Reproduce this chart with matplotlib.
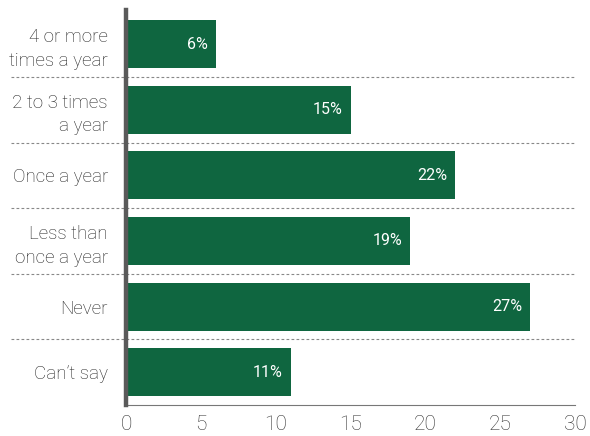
import matplotlib.pyplot as plt

categorias = ['4 or more\ntimes a year', '2 to 3 times\na year', 'Once a year',
              'Less than\nonce a year', 'Never', 'Can\u2019t say']
valores = [6, 15, 22, 19, 27, 11]

plt.rcParams['font.family'] = ['Roboto', 'DejaVu Sans']

fig = plt.figure(figsize=(5.9, 4.36), dpi=100)
ax = fig.add_axes([0.2136, 0.0711, 0.7610, 0.906])

y = list(range(len(categorias)))
barras = ax.barh(y, valores, height=0.73, color='#0f6640', zorder=2)

for barra, v in zip(barras, valores):
    ax.text(barra.get_width() - 0.55, barra.get_y() + barra.get_height() / 2,
            f'{v}%', ha='right', va='center', color='white', fontsize=11.5)

# linhas pontilhadas entre as categorias, entrando na area dos rotulos
for i in range(len(categorias) - 1):
    ax.plot([-7.7, 30], [i + 0.5, i + 0.5], color='#888888', linestyle=(0, (2.5, 2)),
            linewidth=0.8, clip_on=False, zorder=1)

ax.set_xlim(0, 30)
ax.set_ylim(len(categorias) - 0.5, -0.52)
ax.set_yticks(y)
ax.set_yticklabels(categorias, fontsize=13.5, fontweight='light', color='#222222',
                   linespacing=1.4)
ax.set_xticks([0, 5, 10, 15, 20, 25, 30])
ax.set_xticklabels(['0', '5', '10', '15', '20', '25', '30'], fontweight='light')
ax.tick_params(axis='x', length=0, labelsize=15, pad=7, labelcolor='#333333')
ax.tick_params(axis='y', length=0, pad=13)

for lado in ['top', 'right']:
    ax.spines[lado].set_visible(False)
ax.spines['left'].set_color('#5a5a5a')
ax.spines['left'].set_linewidth(3.2)
ax.spines['left'].set_zorder(3)
ax.spines['bottom'].set_color('#777777')
ax.spines['bottom'].set_linewidth(0.8)

plt.savefig('out.png')
